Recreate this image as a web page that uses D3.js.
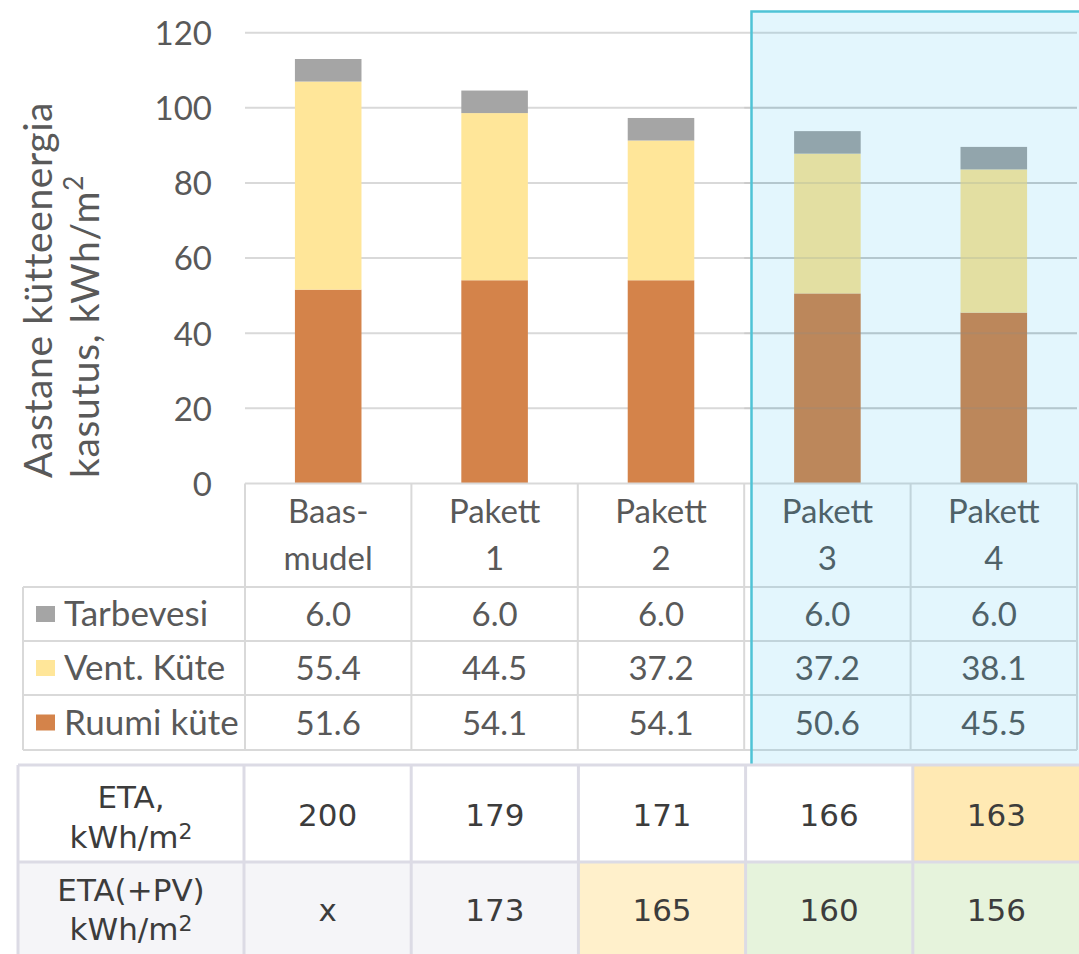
<!DOCTYPE html>
<html>
<head>
<meta charset="utf-8">
<script src="https://cdn.jsdelivr.net/npm/d3@7"></script>
<style>
  html, body { margin: 0; padding: 0; background: #ffffff; }
  svg { display: block; }
</style>
</head>
<body>
<svg id="chart" width="1079" height="954"></svg>
<script>
// ---------- DATA ----------
const categories = ["Baas-mudel", "Pakett 1", "Pakett 2", "Pakett 3", "Pakett 4"];
const categoryLines = [["Baas-", "mudel"], ["Pakett", "1"], ["Pakett", "2"], ["Pakett", "3"], ["Pakett", "4"]];
const seriesNames = ["Ruumi küte", "Vent. Küte", "Tarbevesi"];
const ruumiKute = [51.6, 54.1, 54.1, 50.6, 45.5];
const ventKute = [55.4, 44.5, 37.2, 37.2, 38.1];
const tarbevesi = [6.0, 6.0, 6.0, 6.0, 6.0];
const seriesColors = ["#d4834a", "#ffe699", "#a5a5a5"];
const yTicks = [0, 20, 40, 60, 80, 100, 120];
const yTitleLines = ["Aastane kütteenergia", "kasutus, kWh/m"];
const highlighted = ["Pakett 3", "Pakett 4"];
const etaValues = ["200", "179", "171", "166", "163"];
const etaPvValues = ["x", "173", "165", "160", "156"];
const etaFills = ["#ffffff", "#ffffff", "#ffffff", "#ffffff", "#ffe9b3"];
const etaPvFills = ["#f5f5f8", "#f5f5f8", "#fff0cb", "#e6f3dc", "#e6f3dc"];

// ---------- SETUP ----------
const svg = d3.select("#chart");
const plotLeft = 245, plotRight = 1077, plotTop = 32.7, plotBottom = 483.5;
const txtFont = "Lato, 'Open Sans', sans-serif";
const txtColor = "#595959";
const gridColor = "#d9d9d9";

const x = d3.scaleBand().domain(categories).range([plotLeft, plotRight])
  .paddingInner(0.6).paddingOuter(0.3);
const col = d3.scaleBand().domain(categories).range([plotLeft, plotRight]);
const y = d3.scaleLinear().domain([0, 120]).range([plotBottom, plotTop]);

// gridlines
svg.append("g").selectAll("line").data(yTicks.filter(d => d > 0)).join("line")
  .attr("x1", plotLeft).attr("x2", plotRight)
  .attr("y1", d => y(d)).attr("y2", d => y(d))
  .attr("stroke", gridColor).attr("stroke-width", 2);

// y axis labels
const yAxis = d3.axisLeft(y).tickValues(yTicks).tickSize(0).tickPadding(0).tickFormat(d3.format("d"));
const ya = svg.append("g").attr("transform", "translate(212,0)").call(yAxis);
ya.select(".domain").remove();
ya.selectAll("text").attr("font-family", txtFont).attr("font-size", 33)
  .attr("fill", txtColor).attr("dy", "0.36em");

// y title
const yt = svg.append("text")
  .attr("transform", "translate(0,478) rotate(-90)")
  .attr("font-family", txtFont).attr("font-weight", 400).attr("font-size", 39)
  .attr("letter-spacing", 0.6)
  .attr("fill", txtColor);
yt.append("tspan").attr("x", 0).attr("y", 52).text(yTitleLines[0]);
yt.append("tspan").attr("x", 0).attr("y", 99).text(yTitleLines[1]);
yt.append("tspan").attr("dy", -16).attr("font-size", 26).text("2");

// stacked bars
const rows = categories.map((c, i) => ({ cat: c, "Ruumi küte": ruumiKute[i], "Vent. Küte": ventKute[i], "Tarbevesi": tarbevesi[i] }));
const stack = d3.stack().keys(seriesNames)(rows);
const color = d3.scaleOrdinal().domain(seriesNames).range(seriesColors);
svg.append("g").selectAll("g").data(stack).join("g")
  .attr("fill", d => color(d.key))
  .selectAll("rect").data(d => d).join("rect")
  .attr("x", d => x(d.data.cat)).attr("width", x.bandwidth())
  .attr("y", d => y(d[1])).attr("height", d => y(d[0]) - y(d[1]));

// faint gridlines over bars in highlighted region
svg.append("g").selectAll("line").data(yTicks.filter(d => d > 0 && d < 120)).join("line")
  .attr("x1", col(highlighted[0])).attr("x2", plotRight)
  .attr("y1", d => y(d)).attr("y2", d => y(d))
  .attr("stroke", "#8a8a8a").attr("stroke-opacity", 0.18).attr("stroke-width", 2);

// ---------- DATA TABLE ----------
const legendLeft = 23;
const rowEdges = [483.5, 587, 641, 695, 750];
const tbl = svg.append("g");
tbl.append("line").attr("x1", plotLeft).attr("x2", plotRight).attr("y1", rowEdges[0]).attr("y2", rowEdges[0])
  .attr("stroke", gridColor).attr("stroke-width", 2);
tbl.selectAll("line.h").data(rowEdges.slice(1)).join("line").attr("class", "h")
  .attr("x1", legendLeft).attr("x2", plotRight).attr("y1", d => d).attr("y2", d => d)
  .attr("stroke", gridColor).attr("stroke-width", 2);
const vEdges = categories.map(c => col(c)).concat([plotRight]);
tbl.selectAll("line.v").data(vEdges).join("line").attr("class", "v")
  .attr("x1", d => d).attr("x2", d => d).attr("y1", rowEdges[0]).attr("y2", rowEdges[4])
  .attr("stroke", gridColor).attr("stroke-width", 2);
tbl.append("line").attr("x1", legendLeft).attr("x2", legendLeft).attr("y1", rowEdges[1]).attr("y2", rowEdges[4])
  .attr("stroke", gridColor).attr("stroke-width", 2);

// header labels
categoryLines.forEach((lines, i) => {
  const cx = col(categories[i]) + col.bandwidth() / 2;
  lines.forEach((ln, j) => {
    tbl.append("text").attr("x", cx).attr("y", 523 + j * 47)
      .attr("text-anchor", "middle").attr("font-family", txtFont).attr("font-size", 33)
      .attr("fill", txtColor).text(ln);
  });
});

// series rows (top = Tarbevesi)
const tableSeries = [
  { name: "Tarbevesi", vals: tarbevesi, color: seriesColors[2] },
  { name: "Vent. Küte", vals: ventKute, color: seriesColors[1] },
  { name: "Ruumi küte", vals: ruumiKute, color: seriesColors[0] }
];
tableSeries.forEach((s, r) => {
  const cy = (rowEdges[r + 1] + rowEdges[r + 2]) / 2;
  tbl.append("rect").attr("x", 36).attr("y", cy - 8).attr("width", 19).attr("height", 16).attr("fill", s.color);
  tbl.append("text").attr("x", 64).attr("y", cy + 12).attr("font-family", txtFont).attr("font-size", 35)
    .attr("fill", txtColor).text(s.name);
  s.vals.forEach((v, i) => {
    tbl.append("text").attr("x", col(categories[i]) + col.bandwidth() / 2).attr("y", cy + 12)
      .attr("text-anchor", "middle").attr("font-family", txtFont).attr("font-size", 33)
      .attr("fill", txtColor).text(d3.format(".1f")(v));
  });
});

// ---------- HIGHLIGHT OVERLAY ----------
svg.append("rect").attr("x", 751.5).attr("y", 11.5).attr("width", 340).attr("height", 754)
  .attr("fill", "rgb(0,176,240)").attr("fill-opacity", 0.11)
  .attr("stroke", "#4fc3d6").attr("stroke-width", 2.5);

// ---------- ETA TABLE ----------
const etaTop = 765, etaMid = 862, etaBottom = 960, etaLeft = 18;
const ecol = d3.scaleBand().domain(categories).range([244, 1080]);
const eta = svg.append("g");
const etaFont = "'DejaVu Sans', Verdana, sans-serif";
const etaColor = "#3c3c3c";
eta.append("rect").attr("x", etaLeft).attr("y", etaTop).attr("width", 244 - etaLeft).attr("height", etaMid - etaTop).attr("fill", "#ffffff");
eta.append("rect").attr("x", etaLeft).attr("y", etaMid).attr("width", 244 - etaLeft).attr("height", etaBottom - etaMid).attr("fill", "#f5f5f8");
eta.selectAll("rect.r1").data(categories).join("rect").attr("class", "r1")
  .attr("x", d => ecol(d)).attr("y", etaTop).attr("width", ecol.bandwidth()).attr("height", etaMid - etaTop)
  .attr("fill", (d, i) => etaFills[i]);
eta.selectAll("rect.r2").data(categories).join("rect").attr("class", "r2")
  .attr("x", d => ecol(d)).attr("y", etaMid).attr("width", ecol.bandwidth()).attr("height", etaBottom - etaMid)
  .attr("fill", (d, i) => etaPvFills[i]);
const eBorder = "#dcdbe5";
[etaTop, etaMid].forEach(yy => eta.append("line").attr("x1", etaLeft).attr("x2", 1079).attr("y1", yy).attr("y2", yy)
  .attr("stroke", eBorder).attr("stroke-width", 3));
[etaLeft].concat(categories.map(c => ecol(c))).forEach(xx => eta.append("line")
  .attr("x1", xx).attr("x2", xx).attr("y1", etaTop).attr("y2", etaBottom)
  .attr("stroke", eBorder).attr("stroke-width", 3));
const labelCx = (etaLeft + 244) / 2;
function unitLabel(yy) {
  const t = eta.append("text").attr("x", labelCx).attr("y", yy).attr("text-anchor", "middle")
    .attr("font-family", etaFont).attr("font-size", 31).attr("fill", etaColor);
  t.append("tspan").text("kWh/m");
  t.append("tspan").attr("font-size", 22).attr("dy", -9).text("2");
}
eta.append("text").attr("x", labelCx).attr("y", 808).attr("text-anchor", "middle")
  .attr("font-family", etaFont).attr("font-size", 31).attr("fill", etaColor).text("ETA,");
unitLabel(848);
eta.append("text").attr("x", labelCx).attr("y", 901).attr("text-anchor", "middle")
  .attr("font-family", etaFont).attr("font-size", 31).attr("fill", etaColor).text("ETA(+PV)");
unitLabel(940);
eta.selectAll("text.v1").data(etaValues).join("text").attr("class", "v1")
  .attr("x", (d, i) => ecol(categories[i]) + ecol.bandwidth() / 2).attr("y", 826)
  .attr("text-anchor", "middle").attr("font-family", etaFont).attr("font-size", 31)
  .attr("fill", etaColor).text(d => d);
eta.selectAll("text.v2").data(etaPvValues).join("text").attr("class", "v2")
  .attr("x", (d, i) => ecol(categories[i]) + ecol.bandwidth() / 2).attr("y", 921)
  .attr("text-anchor", "middle").attr("font-family", etaFont).attr("font-size", 31)
  .attr("fill", etaColor).text(d => d);
</script>
</body>
</html>
